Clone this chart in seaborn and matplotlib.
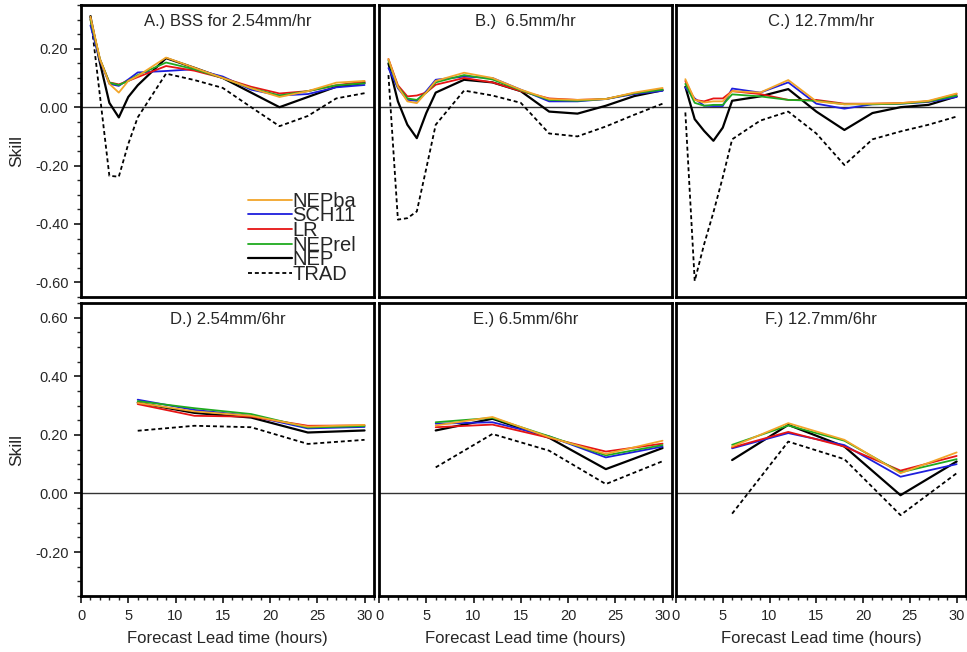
import numpy as np
import pandas as pd
import matplotlib
matplotlib.use('Agg')
import matplotlib.pyplot as plt
import seaborn as sns
from matplotlib.ticker import MultipleLocator

sns.set_style('ticks')
plt.rcParams['font.family'] = ['Liberation Sans', 'DejaVu Sans']

models = ['NEPba', 'SCH11', 'LR', 'NEPrel', 'NEP', 'TRAD']
colors = ['#F2A52A', '#1E1EDC', '#E61414', '#1FAA1F', 'black', 'black']

hourly = [1, 2, 3, 4, 5, 6, 9, 12, 15, 18, 21, 24, 27, 30]
six_hourly = [6, 12, 18, 24, 30]

# A.) 2.54 mm/hr
a_nepba  = [0.31, 0.165, 0.08, 0.05, 0.09, 0.107, 0.17, 0.135, 0.10, 0.065, 0.035, 0.055, 0.084, 0.09]
a_sch11  = [0.28, 0.160, 0.08, 0.073, 0.095, 0.119, 0.124, 0.13, 0.105, 0.06, 0.04, 0.045, 0.068, 0.076]
a_lr     = [0.30, 0.165, 0.085, 0.078, 0.09, 0.103, 0.141, 0.125, 0.10, 0.07, 0.047, 0.055, 0.075, 0.088]
a_neprel = [0.30, 0.165, 0.084, 0.076, 0.09, 0.11, 0.153, 0.13, 0.10, 0.065, 0.04, 0.055, 0.075, 0.082]
a_nep    = [0.31, 0.153, 0.015, -0.035, 0.035, 0.075, 0.168, 0.135, 0.10, 0.05, 0.0, 0.035, 0.07, 0.083]
a_trad   = [0.315, 0.04, -0.235, -0.238, -0.126, -0.035, 0.115, 0.093, 0.066, 0.0, -0.065, -0.03, 0.03, 0.048]

# B.) 6.5 mm/hr
b_nepba  = [0.165, 0.07, 0.02, 0.014, 0.05, 0.09, 0.118, 0.10, 0.06, 0.028, 0.025, 0.028, 0.05, 0.066]
b_sch11  = [0.134, 0.065, 0.025, 0.022, 0.055, 0.094, 0.105, 0.10, 0.06, 0.02, 0.02, 0.028, 0.045, 0.056]
b_lr     = [0.165, 0.075, 0.037, 0.04, 0.05, 0.077, 0.10, 0.085, 0.055, 0.03, 0.025, 0.028, 0.048, 0.062]
b_neprel = [0.16, 0.07, 0.03, 0.025, 0.05, 0.085, 0.11, 0.095, 0.058, 0.025, 0.022, 0.028, 0.048, 0.06]
b_nep    = [0.15, 0.02, -0.06, -0.106, -0.02, 0.05, 0.094, 0.085, 0.055, -0.015, -0.022, 0.005, 0.038, 0.058]
b_trad   = [0.11, -0.385, -0.38, -0.357, -0.21, -0.06, 0.057, 0.04, 0.015, -0.09, -0.10, -0.066, -0.026, 0.012]

# C.) 12.7 mm/hr
c_nepba  = [0.096, 0.025, 0.016, 0.02, 0.02, 0.055, 0.05, 0.093, 0.02, 0.01, 0.012, 0.014, 0.022, 0.047]
c_sch11  = [0.067, 0.03, 0.005, 0.004, 0.004, 0.064, 0.05, 0.085, 0.012, -0.005, 0.01, 0.012, 0.018, 0.035]
c_lr     = [0.09, 0.025, 0.02, 0.03, 0.03, 0.055, 0.045, 0.025, 0.025, 0.012, 0.012, 0.014, 0.02, 0.045]
c_neprel = [0.08, 0.015, 0.005, 0.008, 0.008, 0.044, 0.037, 0.025, 0.022, 0.01, 0.01, 0.012, 0.02, 0.04]
c_nep    = [0.07, -0.041, -0.081, -0.115, -0.07, 0.022, 0.037, 0.062, -0.015, -0.078, -0.02, 0.0, 0.008, 0.037]
c_trad   = [-0.018, -0.595, -0.47, -0.36, -0.24, -0.11, -0.046, -0.015, -0.09, -0.198, -0.11, -0.083, -0.06, -0.032]

# D.) 2.54 mm/6hr
d_nepba  = [0.309, 0.28, 0.265, 0.228, 0.234]
d_sch11  = [0.32, 0.285, 0.265, 0.222, 0.227]
d_lr     = [0.305, 0.265, 0.262, 0.231, 0.232]
d_neprel = [0.315, 0.291, 0.271, 0.225, 0.23]
d_nep    = [0.31, 0.275, 0.259, 0.208, 0.215]
d_trad   = [0.214, 0.231, 0.226, 0.169, 0.183]

# E.) 6.5 mm/6hr
e_nepba  = [0.232, 0.261, 0.192, 0.135, 0.18]
e_sch11  = [0.238, 0.243, 0.195, 0.123, 0.16]
e_lr     = [0.226, 0.235, 0.19, 0.143, 0.17]
e_neprel = [0.243, 0.258, 0.195, 0.13, 0.165]
e_nep    = [0.215, 0.255, 0.19, 0.083, 0.155]
e_trad   = [0.089, 0.203, 0.146, 0.032, 0.11]

# F.) 12.7 mm/6hr
f_nepba  = [0.16, 0.24, 0.183, 0.069, 0.14]
f_sch11  = [0.154, 0.206, 0.165, 0.057, 0.10]
f_lr     = [0.157, 0.21, 0.16, 0.078, 0.128]
f_neprel = [0.166, 0.232, 0.18, 0.072, 0.117]
f_nep    = [0.114, 0.234, 0.16, -0.006, 0.109]
f_trad   = [-0.069, 0.177, 0.117, -0.074, 0.069]

titles = ['A.) BSS for 2.54mm/hr', 'B.)  6.5mm/hr', 'C.) 12.7mm/hr',
          'D.) 2.54mm/6hr', 'E.) 6.5mm/6hr', 'F.) 12.7mm/6hr']

panels = [
    (hourly, [a_nepba, a_sch11, a_lr, a_neprel, a_nep, a_trad]),
    (hourly, [b_nepba, b_sch11, b_lr, b_neprel, b_nep, b_trad]),
    (hourly, [c_nepba, c_sch11, c_lr, c_neprel, c_nep, c_trad]),
    (six_hourly, [d_nepba, d_sch11, d_lr, d_neprel, d_nep, d_trad]),
    (six_hourly, [e_nepba, e_sch11, e_lr, e_neprel, e_nep, e_trad]),
    (six_hourly, [f_nepba, f_sch11, f_lr, f_neprel, f_nep, f_trad]),
]


def make_frame(hours, series):
    rows = []
    for name, vals in zip(models, series):
        for h, v in zip(hours, vals):
            rows.append({'hour': h, 'skill': v, 'model': name})
    return pd.DataFrame(rows)


W, H = 967, 652
fig = plt.figure(figsize=(W / 100, H / 100), dpi=100)

# panel boxes in pixels (left, top, right, bottom)
lefts = [81, 379, 676]
rights = [374, 672, 966]
tops = [5, 303]
bottoms = [297, 596]

dash_map = {m: '' for m in models}
dash_map['TRAD'] = (2.2, 1.6)
widths = [1.3, 1.3, 1.3, 1.3, 1.6, 1.3]

for i, (hours, series) in enumerate(panels):
    row, col = divmod(i, 3)
    l, r = lefts[col], rights[col]
    t, b = tops[row], bottoms[row]
    ax = fig.add_axes([l / W, 1 - b / H, (r - l) / W, (b - t) / H])

    df = make_frame(hours, series)
    sns.lineplot(data=df, x='hour', y='skill', hue='model', hue_order=models,
                 palette=colors, style='model', style_order=models, dashes=dash_map,
                 estimator=None, sort=False, legend=False, ax=ax)
    for ln, w in zip(ax.lines[:6], widths):
        ln.set_linewidth(w)
    # draw the blended models in a readable order (NEPba on top)
    for ln, z in zip(ax.lines[:6], [7, 4, 5, 6, 3, 2]):
        ln.set_zorder(z)

    ax.axhline(0, color='#333333', lw=1.0, zorder=1)

    ax.set_xlim(0, 31)
    if row == 0:
        ax.set_ylim(-0.65, 0.35)
    else:
        ax.set_ylim(-0.35, 0.65)
    ax.yaxis.set_major_locator(MultipleLocator(0.2))
    ax.yaxis.set_minor_locator(MultipleLocator(0.05))
    ax.xaxis.set_major_locator(MultipleLocator(5))
    ax.xaxis.set_minor_locator(MultipleLocator(1))
    ax.yaxis.set_major_formatter(matplotlib.ticker.FormatStrFormatter('%.2f'))

    for s in ax.spines.values():
        s.set_linewidth(2.0)
        s.set_color('black')

    ax.tick_params(which='major', direction='out', length=5, width=1.3, labelsize=10.5, pad=4)
    ax.tick_params(which='minor', direction='out', length=3, width=1.0)

    if col != 0:
        ax.tick_params(axis='y', which='both', left=False, labelleft=False)
    if row == 0:
        ax.tick_params(axis='x', which='both', bottom=False, labelbottom=False)
        ax.set_xlabel('')
    else:
        ax.set_xlabel('Forecast Lead time (hours)', fontsize=12, labelpad=6)
    if col == 0:
        ax.set_ylabel('Skill', fontsize=12.5, labelpad=8)
    else:
        ax.set_ylabel('')

    ax.text(0.5, 0.945, titles[i], transform=ax.transAxes, ha='center', va='center',
            fontsize=12)

    if i == 0:
        ax.legend(ax.lines[:6], models, loc='upper left', bbox_to_anchor=(0.57, 0.36),
                  frameon=False, fontsize=14.5, handlelength=2.2, handletextpad=0.0,
                  labelspacing=-0.22, borderpad=0, borderaxespad=0)

fig.savefig('out.png', dpi=100)
